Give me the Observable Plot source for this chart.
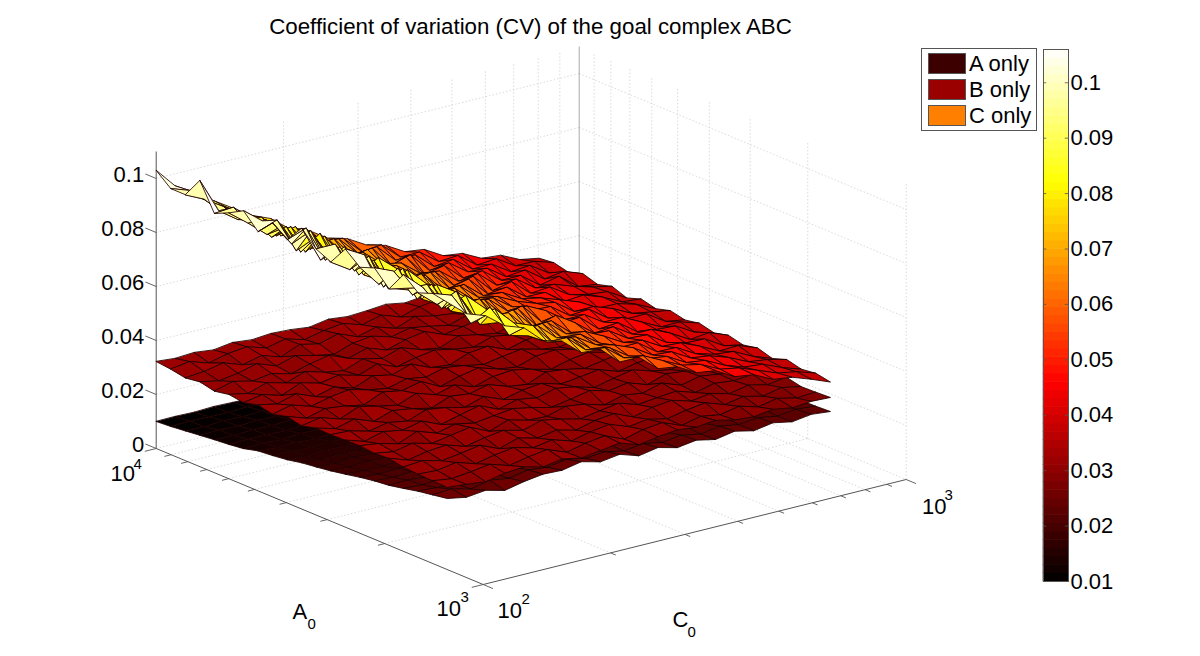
<!DOCTYPE html>
<html><head><meta charset="utf-8">
<script src="https://cdn.jsdelivr.net/npm/d3@7"></script>
<script src="https://cdn.jsdelivr.net/npm/@observablehq/plot@0.6"></script>
<style>
html,body{margin:0;padding:0;background:#fff;overflow:hidden}
#wrap{position:relative;width:1200px;height:656px;font-family:"Liberation Sans",Arial,sans-serif;color:#000}
#wrap svg{position:absolute;left:0;top:0;background:transparent;font-family:"Liberation Sans",Arial,sans-serif}
#title{position:absolute;left:0;width:1061px;top:14px;text-align:center;font-size:22.3px;line-height:26px;white-space:nowrap}
#legend{position:absolute;left:921px;top:48px;width:114px;height:81px;border:1px solid #555;background:#fff;z-index:3}
.sw{position:absolute;left:6px;width:36px;height:19px;border:1px solid #555}
.lb{position:absolute;left:47px;font-size:22px;line-height:24px;white-space:nowrap}
#cbar{position:absolute;left:1042px;top:0;width:110px;height:656px}
</style></head><body>
<div id="wrap">
<div id="plot"></div>
<div id="cbar"></div>
<div id="title">Coefficient of variation (CV) of the goal complex ABC</div>
<div id="legend"></div>
</div>
<script>
// Mesh node positions: log10 of A0 and of C0
const logA0 = [4,3.9555,3.911,3.8665,3.822,3.7775,3.733,3.6885,3.644,3.5995,3.555,3.5105,3.466,3.4215,3.377,3.3325,3.288,3.2435,3.199,3.1545,3.11];
const logC0 = [2,2.0453,2.0906,2.1359,2.1812,2.2265,2.2718,2.3171,2.3624,2.4077,2.453,2.4983,2.5436,2.5889,2.6342,2.6795,2.7248,2.7701,2.8154,2.8607,2.906];

// CV values in units of 1e-4, one row per A0, one column per C0
const cvAonly = [
[100,101,99,102,100,98,101,103,100,99,102,100,98,101,100,103,99,101,100,98,101],
[104,106,105,103,107,104,106,105,102,106,104,107,105,103,106,104,105,107,103,105,104],
[110,108,112,110,113,109,111,108,112,110,109,113,111,108,110,112,109,111,113,108,110],
[116,118,115,119,116,117,114,118,116,119,115,117,118,114,117,116,119,115,117,116,118],
[122,120,124,122,126,121,123,125,120,124,122,126,121,123,120,125,122,124,121,123,120],
[127,130,128,126,131,129,127,132,128,130,126,129,131,127,130,128,126,131,129,127,130],
[134,137,133,138,135,132,137,134,139,133,136,134,138,132,136,135,139,133,137,134,136],
[148,143,146,140,144,142,147,141,145,143,140,146,142,144,147,141,143,145,140,144,142],
[153,152,149,153,147,151,155,149,152,148,154,150,147,153,149,151,148,154,150,152,147],
[160,156,161,158,163,157,160,155,162,158,161,156,163,159,157,162,155,160,158,161,156],
[171,165,169,164,170,166,172,167,163,170,165,171,164,168,166,172,165,169,163,167,165],
[178,174,179,173,176,181,175,172,178,174,180,173,177,175,181,172,176,174,179,173,175],
[186,182,188,184,180,187,183,189,181,185,182,188,180,186,183,187,181,184,182,186,180],
[196,192,190,197,193,199,191,195,189,197,192,198,190,194,191,196,189,193,191,195,188],
[207,201,205,199,206,202,208,200,204,198,206,201,207,199,203,200,205,198,202,199,197],
[216,211,215,209,214,218,210,213,208,216,211,205,212,207,214,209,204,210,206,208,205],
[222,224,218,226,221,217,225,220,227,215,222,217,224,214,219,216,221,213,217,212,215],
[233,228,236,230,234,227,232,238,229,224,231,226,233,223,228,225,230,222,226,224,220],
[245,241,236,244,238,246,240,235,243,237,242,234,239,233,238,231,236,230,234,228,229],
[254,258,240,255,245,258,250,262,248,255,240,250,236,246,232,244,232,240,228,236,230],
[263,250,258,240,255,265,262,276,258,268,245,258,240,250,235,248,232,244,230,240,233]
];
const cvBonly = [
[322,316,320,312,322,314,320,316,308,320,312,316,322,310,318,308,320,312,318,308,314],
[316,326,304,320,328,306,322,302,318,326,304,322,298,318,326,300,320,306,296,316,306],
[306,312,326,302,318,296,324,308,328,300,318,296,322,306,298,320,302,316,324,298,314],
[314,300,310,328,302,322,306,292,316,324,304,320,308,294,316,300,322,298,310,294,308],
[302,320,304,314,296,314,328,300,320,296,316,328,300,312,324,296,308,318,292,310,300],
[312,298,320,302,326,306,294,320,304,326,302,290,318,304,292,316,300,312,322,294,312],
[304,316,296,324,306,318,300,324,296,312,322,308,298,320,308,298,318,290,304,316,296],
[318,304,324,296,314,292,320,306,328,298,290,316,324,294,312,322,296,308,288,306,308],
[306,322,300,316,326,308,296,314,302,320,310,296,308,318,300,290,312,298,316,292,300],
[320,296,314,306,292,322,310,326,290,310,324,302,292,314,320,304,290,318,300,310,288],
[308,320,298,326,310,296,322,300,318,294,314,320,306,288,306,316,298,288,308,296,304],
[322,302,320,294,316,306,290,316,308,324,300,290,318,310,296,308,320,296,286,304,296],
[320,316,298,312,300,324,314,298,320,292,308,316,296,304,314,290,304,312,298,290,302],
[322,300,318,306,322,292,310,326,296,314,302,320,308,288,304,318,296,284,306,292,290],
[324,314,296,324,300,316,302,312,320,306,290,302,316,298,310,286,308,300,286,302,296],
[318,306,320,302,314,326,294,318,300,296,316,306,286,304,294,314,288,304,294,284,294],
[322,298,312,318,296,310,320,302,322,308,292,304,314,292,300,306,284,300,292,298,284],
[312,318,300,310,322,292,314,296,308,290,308,316,286,304,312,292,302,284,298,282,292],
[308,304,316,294,308,318,300,312,290,306,316,290,300,284,298,308,284,296,280,294,280],
[306,296,304,314,292,306,316,288,304,314,284,302,310,282,298,286,300,280,294,278,282],
[304,298,290,304,310,292,304,290,300,310,286,298,306,298,306,290,284,294,282,288,285]
];
const cvConly = [
[1030,955,905,865,820,775,745,690,665,620,600,560,540,500,490,450,440,405,398,365,352],
[985,960,900,860,815,780,720,712,645,642,575,582,520,520,468,472,420,425,382,380,358],
[985,950,905,845,830,745,750,680,680,610,615,548,550,490,498,445,445,400,405,360,345],
[1060,930,880,870,785,800,715,720,640,650,570,590,515,525,475,470,422,428,378,388,362],
[960,965,900,820,840,740,755,672,685,598,622,540,555,492,500,448,448,395,410,355,345],
[985,930,870,880,770,810,712,715,655,640,585,575,520,530,470,475,425,420,395,375,360],
[1015,960,925,810,860,735,745,680,670,620,612,545,560,490,505,445,450,405,388,380,340],
[960,985,855,885,775,800,720,708,642,650,575,590,518,525,472,470,420,425,400,365,358],
[1015,920,950,820,845,750,760,678,678,605,610,552,545,505,490,465,440,400,398,378,345],
[975,1000,865,895,775,735,705,725,645,645,585,570,535,510,495,445,445,420,385,372,360],
[1040,905,935,815,860,800,750,680,675,615,605,555,525,520,470,475,425,405,405,360,348],
[985,985,870,890,770,745,715,715,640,640,580,580,545,495,495,450,450,415,380,380,358],
[960,915,945,810,860,790,755,670,680,605,620,545,520,525,465,470,420,410,405,365,345],
[1030,990,855,905,775,735,710,722,635,650,570,590,545,490,495,450,450,418,378,385,358],
[985,905,945,815,850,805,750,675,685,610,610,550,525,520,475,470,425,405,402,360,345],
[1005,975,870,890,775,745,720,715,640,645,585,575,540,500,490,450,445,415,380,382,356],
[950,935,930,825,855,790,745,672,680,612,605,555,520,520,470,468,428,408,400,365,340],
[1025,960,865,885,770,760,715,712,650,635,590,570,542,498,492,452,442,418,385,375,358],
[980,920,950,820,850,780,752,675,672,615,600,552,525,515,475,465,430,405,398,368,345],
[1000,975,855,895,775,755,715,712,650,640,585,575,540,505,490,455,442,415,388,375,352],
[990,930,905,850,825,760,740,680,675,610,610,550,540,500,490,450,440,405,395,370,342]
];

const surfaces = [cvAonly, cvBonly, cvConly];
const zTicks = [0,0.02,0.04,0.06,0.08,0.1];
const zTop = 0.11;
const aMinorTicks = [2000,3000,4000,5000,6000,7000,8000,9000];
const cMinorTicks = [200,300,400,500,600,700,800,900];
const colorbarTicks = [0.01,0.02,0.03,0.04,0.05,0.06,0.07,0.08,0.09,0.1];
const legendNames = ["A only","B only","C only"];
const legendColors = ["#3d0000","#9b0000","#ff8000"];

// Orthographic view of the box, as the figure shows it
const ox=155.7, oy=448, ux=327, uy=136, vx=423, vy=-105, zs=2700;
const uOf = la => 4-la, vOf = lc => lc-2;
const P = (u,v,z) => ({x:ox+ux*u+vx*v, y:oy+uy*u+vy*v-zs*z});
const PA = (la,lc,z) => P(uOf(la),vOf(lc),z);
const seg = (a,b) => ({x1:a.x,y1:a.y,x2:b.x,y2:b.y});

// Faces, back to front within each surface, lowest surface first
const faces=[]; let fid=0;
surfaces.forEach(S=>{
  const cells=[];
  for(let i=0;i<20;i++) for(let j=0;j<20;j++)
    cells.push({i,j,d:uOf(logA0[i])-0.773*vOf(logC0[j])});
  cells.sort((a,b)=>a.d-b.d);
  cells.forEach(({i,j})=>{
    const v=S[i][j]*1e-4, id=fid++;
    [[i,j],[i+1,j],[i+1,j+1],[i,j+1]].forEach(([a,b])=>{
      const p=PA(logA0[a],logC0[b],S[a][b]*1e-4);
      faces.push({x:p.x,y:p.y,id,v});
    });
  });
});

// Grid lines
const gridSegs=[];
zTicks.forEach(z=>{
  gridSegs.push(seg(P(0,0,z),P(0,1,z)), seg(P(0,1,z),P(1,1,z)));
});
aMinorTicks.forEach(a=>{
  const u=uOf(Math.log10(a));
  gridSegs.push(seg(P(u,0,0),P(u,1,0)), seg(P(u,1,0),P(u,1,zTop)));
});
cMinorTicks.forEach(c=>{
  const v=vOf(Math.log10(c));
  gridSegs.push(seg(P(0,v,0),P(1,v,0)), seg(P(0,v,0),P(0,v,zTop)));
});
gridSegs.push(seg(P(1,1,0),P(1,1,zTop)));

const axisSegs=[seg(P(0,0,0),P(0,0,zTop)), seg(P(0,0,0),P(1,0,0)), seg(P(1,0,0),P(1,1,0))];
const backSegs=[seg(P(0,1,0),P(0,1,zTop))];
const tickSegs=[];
zTicks.forEach(z=>tickSegs.push(seg(P(0,0,z),P(-0.033,0,z))));
aMinorTicks.forEach(a=>{const u=uOf(Math.log10(a));tickSegs.push(seg(P(u,0,0),P(u,-0.016,0)));});
[0,1].forEach(u=>tickSegs.push(seg(P(u,0,0),P(u,-0.027,0))));
cMinorTicks.forEach(c=>{const v=vOf(Math.log10(c));tickSegs.push(seg(P(1,v,0),P(1.016,v,0)));});
[0,1].forEach(v=>tickSegs.push(seg(P(1,v,0),P(1.03,v,0))));

// Labels: x is the left edge, y the text baseline
const zLabels = zTicks.map(z=>({...P(0,0,z),t:String(z)}));
const baseLabels=[{x:110,y:480,t:"10"},{x:436,y:615,t:"10"},{x:497,y:617,t:"10"},{x:921.5,y:513,t:"10"}];
const expLabels=[{x:133,y:468,t:"4"},{x:460,y:601,t:"3"},{x:521,y:603,t:"2"},{x:944,y:499,t:"3"}];
const axisNames=[{x:292,y:618,t:"A"},{x:672,y:626,t:"C"}];
const axisSubs=[{x:307,y:628,t:"0"},{x:687,y:636,t:"0"}];
const bigFont=22, smallFont=15;
const textAt=(rows,fs)=>Plot.text(rows,{x:"x",y:d=>d.y-0.32*fs,text:"t",textAnchor:"start",lineAnchor:"middle",fontSize:fs,fill:"#000"});

const colorScale={type:"linear",domain:[0.01,0.046,0.082,0.106],range:["#000000","#ff0000","#ffff00","#ffffff"],clamp:true,interpolate:"rgb"};
const idScale={type:"identity",axis:null};

const main=Plot.plot({
  width:1200,height:656,margin:0,
  x:idScale,y:idScale,color:colorScale,
  style:{background:"transparent",fontFamily:"Liberation Sans, Arial, sans-serif"},
  marks:[
    Plot.link(gridSegs,{x1:"x1",y1:"y1",x2:"x2",y2:"y2",stroke:"#d0d0d0",strokeWidth:0.8,strokeDasharray:"1.5 2"}),
    Plot.link(backSegs,{x1:"x1",y1:"y1",x2:"x2",y2:"y2",stroke:"#aaa",strokeWidth:1}),
    Plot.link(axisSegs,{x1:"x1",y1:"y1",x2:"x2",y2:"y2",stroke:"#555",strokeWidth:1}),
    Plot.link(tickSegs,{x1:"x1",y1:"y1",x2:"x2",y2:"y2",stroke:"#555",strokeWidth:0.9}),
    Plot.line(faces,{x:"x",y:"y",z:"id",fill:d=>d.v,stroke:"#200000",strokeWidth:0.9,strokeOpacity:0.95,curve:"linear-closed"}),
    Plot.text(zLabels,{x:d=>d.x-12,y:d=>d.y-4,text:"t",textAnchor:"end",fontSize:bigFont,fill:"#000",lineAnchor:"middle"}),
    textAt(baseLabels,bigFont),
    textAt(expLabels,smallFont),
    textAt(axisNames,bigFont),
    textAt(axisSubs,smallFont)
  ]
});
document.getElementById("plot").appendChild(main);

// Colour bar
const barDomain=[0.01,0.106];
const barSteps=d3.range(64).map(k=>({
  y1:barDomain[0]+(barDomain[1]-barDomain[0])*k/64,
  y2:barDomain[0]+(barDomain[1]-barDomain[0])*(k+1)/64
}));
const bar=Plot.plot({
  width:110,height:656,marginLeft:1,marginRight:84,marginTop:49,marginBottom:75,
  x:{domain:[0,1],axis:null},
  y:{domain:barDomain,axis:null},
  color:colorScale,
  style:{background:"transparent",fontFamily:"Liberation Sans, Arial, sans-serif"},
  marks:[
    Plot.rect(barSteps,{x1:0,x2:1,y1:"y1",y2:"y2",fill:d=>(d.y1+d.y2)/2,inset:-0.3}),
    Plot.ruleY(colorbarTicks,{y:d=>d,x1:0,x2:0.13,stroke:"#555",strokeWidth:0.8}),
    Plot.ruleY(colorbarTicks,{y:d=>d,x1:0.87,x2:1,stroke:"#555",strokeWidth:0.8}),
    Plot.frame({stroke:"#555",strokeWidth:1}),
    Plot.axisY(colorbarTicks,{anchor:"right",tickSize:0,tickPadding:2,fontSize:22,tickFormat:d3.format(".2~f"),fill:"#000"})
  ]
});
document.getElementById("cbar").appendChild(bar);

// Legend
const leg=document.getElementById("legend");
legendNames.forEach((n,k)=>{
  const top=4+k*26;
  const s=document.createElement("div");s.className="sw";s.style.top=top+"px";s.style.background=legendColors[k];leg.appendChild(s);
  const l=document.createElement("div");l.className="lb";l.style.top=(top-1)+"px";l.textContent=n;leg.appendChild(l);
});
</script>
</body></html>
